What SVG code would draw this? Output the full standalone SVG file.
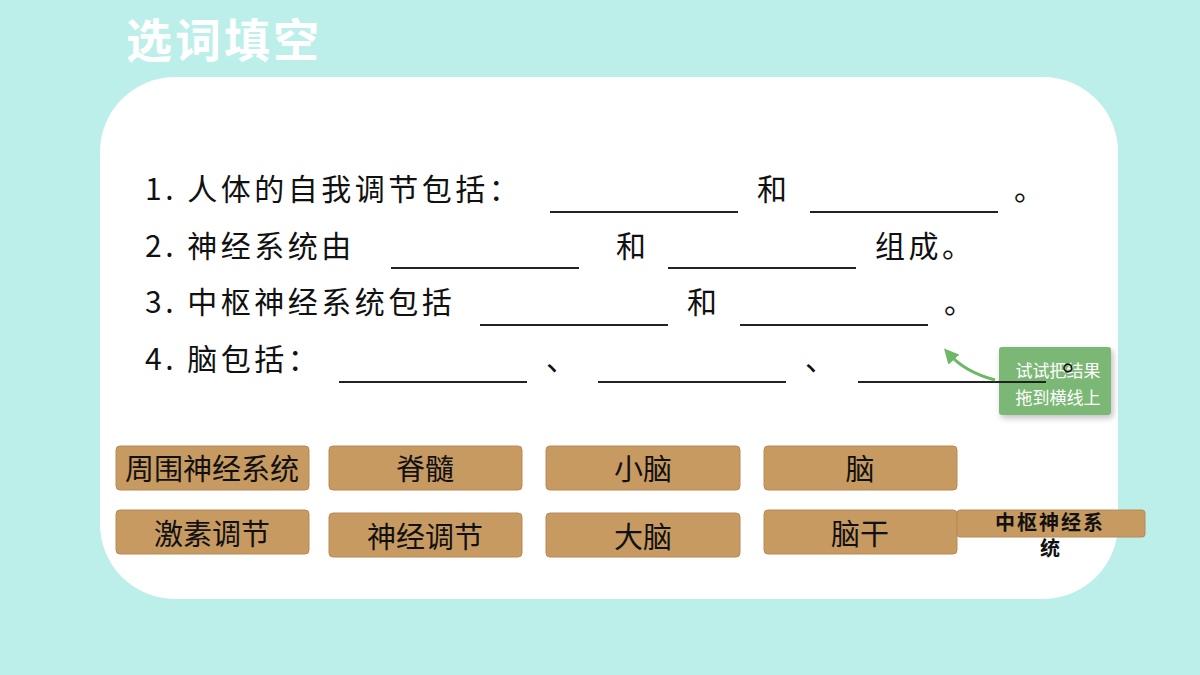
<svg xmlns="http://www.w3.org/2000/svg" width="1200" height="675" viewBox="0 0 1200 675">
<defs>
<style>
.t{font-family:"Noto Sans CJK SC",sans-serif;font-size:30px;fill:#111;letter-spacing:3.5px}
.u{stroke:#222;stroke-width:2}
.b{fill:#c79a62;stroke:#b88a55;stroke-width:1}
.bt{font-family:"Noto Sans CJK SC",sans-serif;font-size:29px;fill:#111;text-anchor:middle}
</style>
<marker id="ah" viewBox="0 0 10 10" refX="5" refY="5" markerWidth="5" markerHeight="5" orient="auto"><path d="M0,0L10,5L0,10z" fill="#6db866"/></marker>
<filter id="sh" x="-20%" y="-20%" width="140%" height="150%"><feDropShadow dx="2" dy="3" stdDeviation="3" flood-opacity="0.25"/></filter>
</defs>
<rect width="1200" height="675" fill="#bdefea"/>
<rect x="100" y="77" width="1018" height="522" rx="75" fill="#fff"/>
<text x="126" y="57" font-family="Noto Sans CJK SC,sans-serif" font-size="46" font-weight="bold" fill="#fff" letter-spacing="3">选词填空</text>
<g id="questions">
<text class="t" x="145" y="200">1. 人体的自我调节包括：</text>
<line class="u" x1="550" y1="212" x2="738" y2="212"/><text class="t" x="757" y="200">和</text>
<line class="u" x1="810" y1="212" x2="998" y2="212"/><text class="t" x="1014" y="200">。</text>
<text class="t" x="145" y="257">2. 神经系统由</text>
<line class="u" x1="391" y1="268" x2="579" y2="268"/><text class="t" x="616" y="257">和</text>
<line class="u" x1="668" y1="268" x2="856" y2="268"/><text class="t" x="875" y="257">组成。</text>
<text class="t" x="145" y="313">3. 中枢神经系统包括</text>
<line class="u" x1="480" y1="325" x2="668" y2="325"/><text class="t" x="687" y="313">和</text>
<line class="u" x1="740" y1="325" x2="928" y2="325"/><text class="t" x="944" y="313">。</text>
<text class="t" x="145" y="370">4. 脑包括：</text>
<line class="u" x1="339" y1="382" x2="527" y2="382"/><text class="t" x="546" y="370">、</text>
<line class="u" x1="598" y1="382" x2="786" y2="382"/><text class="t" x="805" y="370">、</text>
</g>
<g id="n1"><rect class="b" x="116" y="446" width="193" height="44" rx="4"/><text class="bt" x="212" y="480">周围神经系统</text></g>
<g id="n2"><rect class="b" x="329" y="446" width="193" height="44" rx="4"/><text class="bt" x="425" y="480">脊髓</text></g>
<g id="n3"><rect class="b" x="546" y="446" width="194" height="44" rx="4"/><text class="bt" x="643" y="480">小脑</text></g>
<g id="n4"><rect class="b" x="764" y="446" width="193" height="44" rx="4"/><text class="bt" x="860" y="480">脑</text></g>
<g id="n5"><rect class="b" x="116" y="510" width="193" height="44" rx="4"/><text class="bt" x="212" y="545">激素调节</text></g>
<g id="n6"><rect class="b" x="329" y="513" width="193" height="44" rx="4"/><text class="bt" x="425" y="548">神经调节</text></g>
<g id="n7"><rect class="b" x="546" y="513" width="194" height="44" rx="4"/><text class="bt" x="643" y="548">大脑</text></g>
<g id="n8"><rect class="b" x="764" y="510" width="193" height="44" rx="4"/><text class="bt" x="860" y="545">脑干</text></g>
<g id="n9"><rect class="b" x="957" y="510" width="188" height="27" rx="3"/><text x="1050" y="530" font-family="Noto Sans CJK SC,sans-serif" font-size="20" font-weight="bold" text-anchor="middle" fill="#111" letter-spacing="2">中枢神经系</text><text x="1050" y="556" font-family="Noto Sans CJK SC,sans-serif" font-size="20" font-weight="bold" text-anchor="middle" fill="#111">统</text></g>
<g id="tip">
<rect x="999" y="347" width="112" height="68" rx="3" fill="#7cb874" filter="url(#sh)"/>
<text x="1058" y="377" font-family="Noto Sans CJK SC,sans-serif" font-size="17" fill="#fff" text-anchor="middle">试试把结果</text>
<text x="1058" y="404" font-family="Noto Sans CJK SC,sans-serif" font-size="17" fill="#fff" text-anchor="middle">拖到横线上</text>
</g>
<line class="u" x1="858" y1="382" x2="1046" y2="382"/><text class="t" x="1062" y="370">。</text>
<g id="connectors"><path d="M995,380 Q965,372 949,354" fill="none" stroke="#6db866" stroke-width="3" marker-end="url(#ah)"/></g>
</svg>
